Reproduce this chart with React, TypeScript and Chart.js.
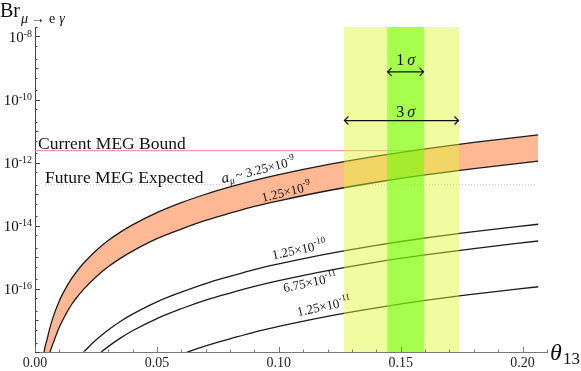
import React, { useEffect, useRef } from "react";
import { Chart, registerables } from "chart.js";

Chart.register(...registerables);

// ---------- data ----------
const THETA_BAND = [0.002, 0.0037, 0.005, 0.006, 0.0075, 0.01, 0.0125, 0.015, 0.0175, 0.02, 0.025, 0.03, 0.035, 0.04, 0.05, 0.06, 0.07, 0.08, 0.09, 0.1, 0.12, 0.14, 0.16, 0.18, 0.2064];
const BR_A325E9 = [6.6e-20, 1.0e-18, 2.6e-18, 5.4e-18, 1.32e-17, 4.2e-17, 1.02e-16, 2.1e-16, 3.9e-16, 6.6e-16, 1.62e-15, 3.4e-15, 6.3e-15, 1.07e-14, 2.6e-14, 5.4e-14, 1.0e-13, 1.7e-13, 2.75e-13, 4.2e-13, 8.7e-13, 1.62e-12, 2.75e-12, 4.4e-12, 7.6e-12];
const BR_A125E9 = [1e-20, 1.15e-19, 3.9e-19, 9e-19, 1.95e-18, 6.2e-18, 1.5e-17, 3.2e-17, 5.8e-17, 9.8e-17, 2.4e-16, 5.0e-16, 9.3e-16, 1.58e-15, 3.9e-15, 7.9e-15, 1.48e-14, 2.5e-14, 4.1e-14, 6.2e-14, 1.29e-13, 2.4e-13, 4.1e-13, 6.5e-13, 1.12e-12];

const THETA_A125E10 = [0.017, 0.0195, 0.0225, 0.025, 0.03, 0.035, 0.04, 0.05, 0.06, 0.07, 0.08, 0.09, 0.1, 0.12, 0.14, 0.16, 0.18, 0.2064];
const BR_A125E10 = [5.1e-19, 8.9e-19, 1.58e-18, 2.4e-18, 5.0e-18, 9.3e-18, 1.58e-17, 3.9e-17, 7.9e-17, 1.48e-16, 2.5e-16, 4.1e-16, 6.2e-16, 1.29e-15, 2.4e-15, 4.1e-15, 6.5e-15, 1.12e-14];

const THETA_A675E11 = [0.024, 0.027, 0.03, 0.035, 0.04, 0.05, 0.06, 0.07, 0.08, 0.09, 0.1, 0.12, 0.14, 0.16, 0.18, 0.2064];
const BR_A675E11 = [6.0e-19, 9.7e-19, 1.48e-18, 2.75e-18, 4.7e-18, 1.15e-17, 2.35e-17, 4.4e-17, 7.4e-17, 1.2e-16, 1.82e-16, 3.8e-16, 7.1e-16, 1.2e-15, 1.9e-15, 3.3e-15];

const THETA_A125E11 = [0.058, 0.063, 0.07, 0.08, 0.09, 0.1, 0.12, 0.14, 0.16, 0.18, 0.2064];
const BR_A125E11 = [7.3e-19, 1.02e-18, 1.55e-18, 2.6e-18, 4.3e-18, 6.5e-18, 1.35e-17, 2.5e-17, 4.3e-17, 6.8e-17, 1.17e-16];

const MEG_CURRENT = 2.4e-12;
const MEG_CURRENT_RANGE = [0, 0.2054];
const MEG_FUTURE = 2e-13;
const MEG_FUTURE_RANGE = [0.0041, 0.2054];

const SIGMA1_RANGE = [0.1444, 0.1596];
const SIGMA3_RANGE = [0.1267, 0.1739];
const SIGMA1_ARROW_Y = 7.6e-10;
const SIGMA3_ARROW_Y = 2.17e-11;
const SIGMA1_TEXT_Y = 1.9e-9;
const SIGMA3_TEXT_Y = 4.4e-11;
const SIGMA_TEXT_X = 0.152;

const X_MIN = 0;
const X_MAX = 0.21;
const Y_MIN = 1e-18;
const Y_MAX = 2e-8;
const X_TICKS = [0, 0.05, 0.1, 0.15, 0.2];
const Y_LABEL_EXPONENTS = [-8, -10, -12, -14, -16];

// curve label anchors (data coords)
const CURVE_LABELS = [
  { theta: 0.0915, br: 6.0e-13, angle: -14, prefix: true, base: "3.25×10", exp: "-9" },
  { theta: 0.103, br: 1.21e-13, angle: -14, prefix: false, base: "1.25×10", exp: "-9" },
  { theta: 0.1083, br: 1.79e-15, angle: -12, prefix: false, base: "1.25×10", exp: "-10" },
  { theta: 0.1128, br: 1.63e-16, angle: -12, prefix: false, base: "6.75×10", exp: "-11" },
  { theta: 0.1185, br: 2.84e-17, angle: -12, prefix: false, base: "1.25×10", exp: "-11" },
];

const FONT = '"Liberation Serif", "DejaVu Serif", "Times New Roman", serif';

const toPts = (xs: number[], ys: number[]) => xs.map((x, i) => ({ x, y: ys[i] }));

function drawParts(ctx: any, parts: any[], x: number, y: number, align: "left" | "center" | "right") {
  let total = 0;
  const widths = parts.map((p) => {
    ctx.font = p.font;
    const w = ctx.measureText(p.text).width + (p.gap || 0);
    total += w;
    return w;
  });
  let cx = align === "left" ? x : align === "center" ? x - total / 2 : x - total;
  parts.forEach((p, i) => {
    ctx.font = p.font;
    ctx.fillText(p.text, cx, y + (p.dy || 0));
    cx += widths[i];
  });
}

const bandPlugin = {
  id: "sigmaBands",
  afterDatasetsDraw(chart: any) {
    const { ctx, chartArea: a, scales } = chart;
    const x = scales.x;
    const px = (v: number) => x.getPixelForValue(v);
    ctx.save();
    ctx.fillStyle = "rgba(221,248,39,0.44)";
    ctx.fillRect(px(SIGMA3_RANGE[0]), a.top, px(SIGMA1_RANGE[0]) - px(SIGMA3_RANGE[0]), a.bottom - a.top);
    ctx.fillRect(px(SIGMA1_RANGE[1]), a.top, px(SIGMA3_RANGE[1]) - px(SIGMA1_RANGE[1]), a.bottom - a.top);
    ctx.fillStyle = "rgba(130,255,3,0.71)";
    ctx.fillRect(px(SIGMA1_RANGE[0]), a.top, px(SIGMA1_RANGE[1]) - px(SIGMA1_RANGE[0]), a.bottom - a.top);
    ctx.restore();
  },
};

function arrow(ctx: any, x0: number, x1: number, y: number) {
  ctx.beginPath();
  ctx.moveTo(x0, y);
  ctx.lineTo(x1, y);
  ctx.moveTo(x0 + 4.5, y - 4);
  ctx.lineTo(x0 + 0.5, y);
  ctx.lineTo(x0 + 4.5, y + 4);
  ctx.moveTo(x1 - 4.5, y - 4);
  ctx.lineTo(x1 - 0.5, y);
  ctx.lineTo(x1 - 4.5, y + 4);
  ctx.stroke();
}

const overlayPlugin = {
  id: "overlay",
  afterDraw(chart: any) {
    const { ctx, chartArea: a, scales } = chart;
    const x = scales.x;
    const y = scales.y;
    ctx.save();
    // y ticks (inward)
    ctx.strokeStyle = "#444";
    ctx.lineWidth = 1;
    ctx.beginPath();
    for (let n = -18; n <= -8; n++) {
      for (const m of [1, 2, 5]) {
        const v = m * Math.pow(10, n);
        if (v < Y_MIN * 0.999 || v > Y_MAX * 1.001) continue;
        const py = Math.round(y.getPixelForValue(v)) + 0.5;
        const len = m === 1 ? (n % 2 === 0 ? 5 : 3.5) : 2.5;
        ctx.moveTo(a.left, py);
        ctx.lineTo(a.left + len, py);
      }
    }
    ctx.stroke();
    // x ticks (inward)
    ctx.strokeStyle = "#777";
    ctx.beginPath();
    for (let i = 0; i <= 21; i++) {
      const v = i * 0.01;
      const pxx = Math.round(x.getPixelForValue(v)) + 0.5;
      const len = i % 5 === 0 ? 5 : 2.5;
      ctx.moveTo(pxx, a.bottom);
      ctx.lineTo(pxx, a.bottom - len);
    }
    ctx.stroke();

    ctx.fillStyle = "#111";
    ctx.textBaseline = "alphabetic";
    // y labels
    for (const e of Y_LABEL_EXPONENTS) {
      const py = y.getPixelForValue(Math.pow(10, e));
      ctx.font = `10px ${FONT}`;
      const we = ctx.measureText(String(e)).width;
      ctx.fillText(String(e), 32 - we, py + 0.5);
      ctx.font = `15px ${FONT}`;
      const wb = ctx.measureText("10").width;
      ctx.fillText("10", 32 - we - wb, py + 5.5);
    }

    // axis titles
    ctx.font = `20px ${FONT}`;
    ctx.fillText("Br", 0, 17);
    drawParts(
      ctx,
      [
        { text: "μ", font: `italic 14px ${FONT}`, gap: 3 },
        { text: "→", font: `14px ${FONT}`, gap: 4 },
        { text: "e", font: `14px ${FONT}`, gap: 4 },
        { text: "γ", font: `italic 14px ${FONT}` },
      ],
      21,
      23,
      "left"
    );
    ctx.font = `italic 24px ${FONT}`;
    ctx.fillText("θ", 550, 360);
    ctx.font = `17px ${FONT}`;
    ctx.fillText("13", 563, 364);

    // MEG texts
    ctx.font = `17.5px ${FONT}`;
    ctx.fillText("Current MEG Bound", 38, 149);
    ctx.fillText("Future MEG Expected", 45, 183);

    // curve labels
    for (const L of CURVE_LABELS) {
      const cx = x.getPixelForValue(L.theta);
      const cy = y.getPixelForValue(L.br);
      ctx.save();
      ctx.translate(cx, cy);
      ctx.rotate((L.angle * Math.PI) / 180);
      const parts: any[] = [];
      if (L.prefix) {
        parts.push({ text: "a", font: `italic 15px ${FONT}` });
        parts.push({ text: "μ", font: `italic 10px ${FONT}`, dy: 3, gap: 2 });
        parts.push({ text: "~ ", font: `13px ${FONT}` });
      }
      parts.push({ text: L.base, font: `13px ${FONT}` });
      parts.push({ text: L.exp, font: `9px ${FONT}`, dy: -6 });
      drawParts(ctx, parts, 0, 4.5, "center");
      ctx.restore();
    }

    // sigma arrows
    ctx.strokeStyle = "#111";
    ctx.lineWidth = 1.2;
    arrow(ctx, x.getPixelForValue(SIGMA1_RANGE[0]), x.getPixelForValue(SIGMA1_RANGE[1]), y.getPixelForValue(SIGMA1_ARROW_Y));
    arrow(ctx, x.getPixelForValue(SIGMA3_RANGE[0]), x.getPixelForValue(SIGMA3_RANGE[1]), y.getPixelForValue(SIGMA3_ARROW_Y));
    const sx = x.getPixelForValue(SIGMA_TEXT_X);
    drawParts(
      ctx,
      [
        { text: "1", font: `16px ${FONT}`, gap: 3 },
        { text: "σ", font: `italic 16px ${FONT}` },
      ],
      sx,
      y.getPixelForValue(SIGMA1_TEXT_Y) + 6,
      "center"
    );
    drawParts(
      ctx,
      [
        { text: "3", font: `16px ${FONT}`, gap: 3 },
        { text: "σ", font: `italic 16px ${FONT}` },
      ],
      sx,
      y.getPixelForValue(SIGMA3_TEXT_Y) + 6,
      "center"
    );
    ctx.restore();
  },
};

export default function App() {
  const ref = useRef<HTMLCanvasElement | null>(null);
  useEffect(() => {
    if (!ref.current) return;
    const curve = (data: any[], extra: any = {}) => ({
      data,
      borderColor: "#1a1a1a",
      borderWidth: 1.3,
      pointRadius: 0,
      cubicInterpolationMode: "monotone",
      fill: false,
      ...extra,
    });
    const chart = new Chart(ref.current, {
      type: "line",
      data: {
        datasets: [
          curve(toPts(THETA_BAND, BR_A325E9)),
          curve(toPts(THETA_BAND, BR_A125E9), { fill: "-1", backgroundColor: "#FFB894" }),
          curve(toPts(THETA_A125E10, BR_A125E10)),
          curve(toPts(THETA_A675E11, BR_A675E11)),
          curve(toPts(THETA_A125E11, BR_A125E11)),
          {
            data: [
              { x: MEG_CURRENT_RANGE[0], y: MEG_CURRENT },
              { x: MEG_CURRENT_RANGE[1], y: MEG_CURRENT },
            ],
            borderColor: "#E8809A",
            borderWidth: 1,
            pointRadius: 0,
            fill: false,
          },
          {
            data: [
              { x: MEG_FUTURE_RANGE[0], y: MEG_FUTURE },
              { x: MEG_FUTURE_RANGE[1], y: MEG_FUTURE },
            ],
            borderColor: "#F0A6B8",
            borderWidth: 1,
            borderDash: [1, 2],
            pointRadius: 0,
            fill: false,
          },
        ] as any,
      },
      options: {
        animation: false,
        responsive: false,
        devicePixelRatio: 1,
        layout: { padding: { top: 27, right: 34, left: 0, bottom: 0 } },
        plugins: { legend: { display: false }, tooltip: { enabled: false } },
        scales: {
          x: {
            type: "linear",
            min: X_MIN,
            max: X_MAX,
            afterBuildTicks: (s: any) => {
              s.ticks = X_TICKS.map((v) => ({ value: v }));
            },
            afterFit: (s: any) => {
              s.height = 19;
            },
            grid: { display: false, drawTicks: false },
            border: { display: true, color: "#777", width: 1 },
            ticks: {
              font: { family: FONT, size: 14 },
              color: "#222",
              padding: 3,
              maxRotation: 0,
              autoSkip: false,
              callback: (v: any) => Number(v).toFixed(2),
            },
          },
          y: {
            type: "logarithmic",
            min: Y_MIN,
            max: Y_MAX,
            afterFit: (s: any) => {
              s.width = 35;
            },
            grid: { display: false, drawTicks: false },
            border: { display: true, color: "#444", width: 1 },
            ticks: { display: false },
          },
        },
      } as any,
      plugins: [bandPlugin, overlayPlugin],
    });
    return () => chart.destroy();
  }, []);
  return (
    <div style={{ position: "fixed", left: 0, top: 0, width: 581, height: 371, background: "#fff" }}>
      <canvas ref={ref} width={581} height={371} style={{ display: "block", width: 581, height: 371 }} />
    </div>
  );
}
